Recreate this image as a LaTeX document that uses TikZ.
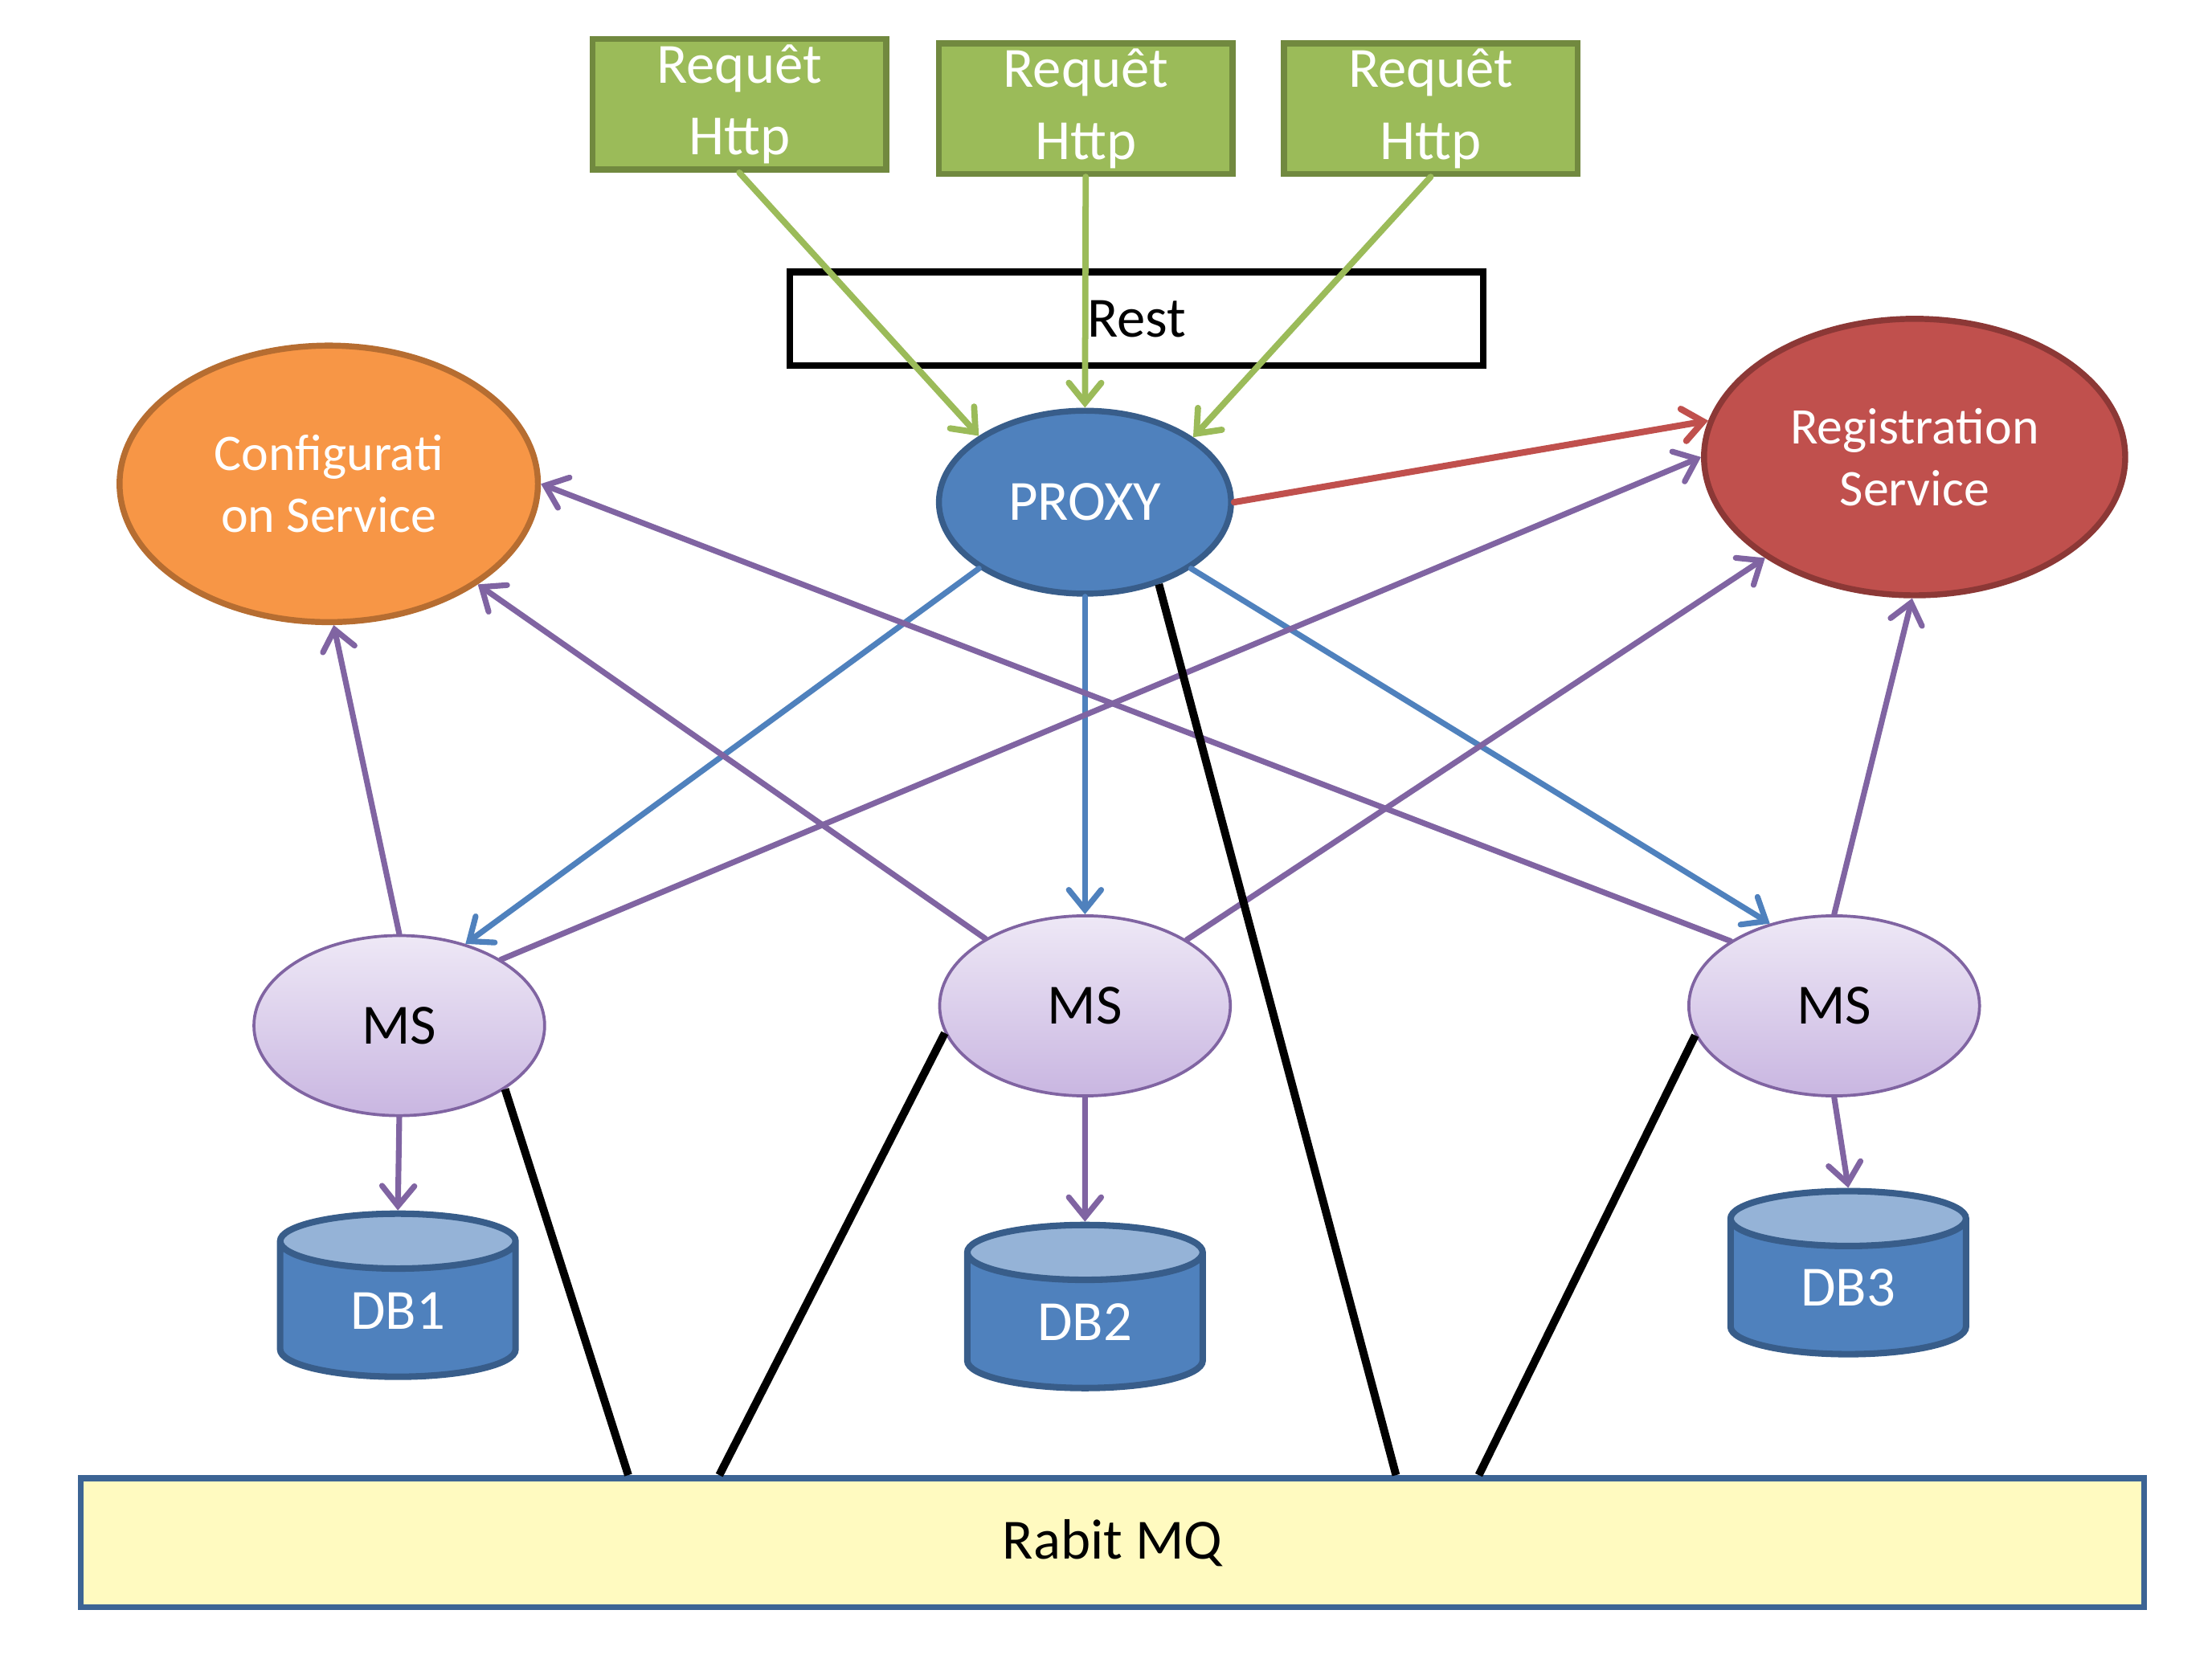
\documentclass[tikz,border=0pt]{standalone}
\usepackage{fontspec}
\setmainfont{Carlito}
\usetikzlibrary{shapes.geometric,arrows.meta,calc}
\definecolor{reqgreen}{HTML}{9BBB59}
\definecolor{reqgreenline}{HTML}{71893F}
\definecolor{proxyblue}{HTML}{4F81BD}
\definecolor{proxyline}{HTML}{385D8A}
\definecolor{confzorange}{HTML}{F79646}
\definecolor{confline}{HTML}{B66D31}
\definecolor{regred}{HTML}{C0504D}
\definecolor{regline}{HTML}{8C3836}
\definecolor{mspurple}{HTML}{8064A2}
\definecolor{mstop}{HTML}{EEE8F6}
\definecolor{msbottom}{HTML}{C9B6E1}
\definecolor{dbtop}{HTML}{95B3D7}
\definecolor{mqyellow}{HTML}{FFFAC0}
\definecolor{mqline}{HTML}{3C6494}
\begin{document}
\begin{tikzpicture}[x=0.00995cm, y=-0.00995cm,
    font=\fontsize{11.4}{14.4}\selectfont,
    >={Straight Barb[length=4pt,width=6.5pt,line cap=round]},
    request/.style={rectangle, draw=reqgreenline, fill=reqgreen, line width=1.2pt,
        minimum width=2.07cm, minimum height=0.92cm, inner sep=0pt, text=white, align=center},
    service/.style={ellipse, line width=1.2pt, inner sep=0pt, text=white, align=center,
        font=\fontsize{10.3}{12.4}\selectfont},
    ms/.style={ellipse, draw=mspurple, line width=0.6pt, top color=mstop, bottom color=msbottom,
        minimum width=2.05cm, minimum height=1.27cm, inner sep=0pt},
    db/.style={cylinder, shape border rotate=90, aspect=0.58, draw=proxyline, line width=1.3pt,
        cylinder uses custom fill, cylinder body fill=proxyblue, cylinder end fill=dbtop,
        minimum width=1.66cm, minimum height=1.15cm, inner sep=0pt, text=white},
    greenarrow/.style={->, reqgreen, line width=1.25pt, line cap=round},
    bluearrow/.style={->, proxyblue, line width=1.15pt, line cap=round},
    purplearrow/.style={->, mspurple, line width=1.15pt, line cap=round},
    redarrow/.style={->, regred, line width=1.3pt, line cap=round},
    mqlink/.style={black, line width=1.6pt}
  ]
    \useasboundingbox (0,0) rectangle (1567.8,1175.9);

    % requests and rest layer
    \node[request] (req1) at (524,74) {Requêt\\Http};
    \node[request] (req2) at (769.5,77) {Requêt\\Http};
    \node[request] (req3) at (1014,77) {Requêt\\Http};
    \node[rectangle, draw=black, fill=white, line width=1.4pt, minimum width=4.89cm,
        minimum height=0.66cm, inner sep=0pt] (rest) at (805.5,226) {Rest};

    % services
    \node[service, draw=proxyline, fill=proxyblue, minimum width=2.06cm, minimum height=1.29cm,
        font=\fontsize{11.4}{14.2}\selectfont] (proxy) at (769,356) {PROXY};
    \node[service, draw=confline, fill=confzorange, minimum width=2.95cm, minimum height=1.95cm]
        (config) at (233,343) {Configurati\\on Service};
    \node[service, draw=regline, fill=regred, minimum width=2.97cm, minimum height=1.95cm]
        (reg) at (1357,324) {Registration\\Service};

    % micro services and databases
    \node[ms] (ms1) at (283,727) {MS};
    \node[ms] (ms2) at (769,713) {MS};
    \node[ms] (ms3) at (1300,713) {MS};
    \node[db] (db1) at (282,929) {DB1};
    \node[db] (db2) at (769,937) {DB2};
    \node[db] (db3) at (1310,913) {DB3};

    \node[rectangle, draw=mqline, fill=mqyellow, line width=1.2pt, minimum width=14.55cm,
        minimum height=0.91cm, inner sep=0pt] (mq) at (788.5,1093.5) {Rabit MQ};

    % http calls
    \draw[greenarrow] (req1.south) -- (proxy.148);
    \draw[greenarrow] (req2.south) -- (proxy.north);
    \draw[greenarrow] (req3.south) -- (proxy.31);
    \draw[redarrow] (proxy.east) -- (reg.170);

    % proxy to ms
    \draw[bluearrow] (proxy.212) -- (ms1.51);
    \draw[bluearrow] (proxy.south) -- (ms2.north);
    \draw[bluearrow] (proxy.328) -- (ms3.128);

    % config and registration
    \draw[purplearrow] (ms1.north) -- (config.272);
    \draw[purplearrow] (ms1.33) -- (reg.west);
    \draw[purplearrow] (ms2.146) -- (config.326);
    \draw[purplearrow] (ms2.33) -- (reg.214);
    \draw[purplearrow] (ms3.148) -- (config.east);
    \draw[purplearrow] (ms3.north) -- (reg.269);
    \draw[purplearrow] (ms1.south) -- (db1.north);
    \draw[purplearrow] (ms2.south) -- (db2.north);
    \draw[purplearrow] (ms3.south) -- (db3.north);

    % bus
    \draw[mqlink] (ms1.329) -- ($(mq.north west)!0.266!(mq.north east)$);
    \draw[mqlink] (ms2.191) -- ($(mq.north west)!0.310!(mq.north east)$);
    \draw[mqlink] (proxy.312) -- ($(mq.north west)!0.637!(mq.north east)$);
    \draw[mqlink] (ms3.192) -- ($(mq.north west)!0.677!(mq.north east)$);
\end{tikzpicture}
\end{document}
